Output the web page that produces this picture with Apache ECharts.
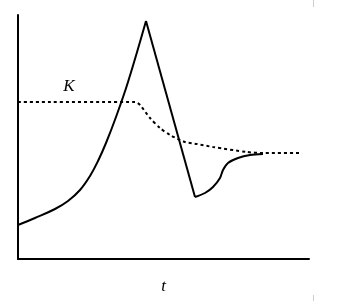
<!DOCTYPE html>
<html><head><meta charset="utf-8">
<script src="https://cdn.jsdelivr.net/npm/echarts@6/dist/echarts.min.js"></script>
<style>html,body{margin:0;padding:0;background:#fff}#c{width:350px;height:301px}</style>
</head><body><div id="c"></div>
<script>
// Population curve (t, N) — rising phase, crash, recovery
const riseX = [0, 17, 37, 50, 62, 72, 80, 88, 98, 110, 128];
const riseY = [34, 41, 50, 58, 69, 83, 98, 116, 142, 177, 238];
const fallX = [128, 177];
const fallY = [238, 62];
const recX = [177, 187, 195, 202, 205, 210, 220, 232, 245];
const recY = [62, 66, 72, 81, 89, 96, 101, 104, 105];
// Carrying capacity K (dotted)
const kX = [0, 117, 122, 132, 142, 152, 167, 179, 195, 229, 245, 282];
const kY = [157, 157, 154, 141, 131, 124, 117, 115, 112, 107, 106, 106];
const kLabel = 'K';
const kLabelPos = [51, 172];
const xName = 't';

const zip = (a, b) => a.map((v, i) => [v, b[i]]);
const solid = {type: 'line', symbol: 'none', lineStyle: {color: '#000', width: 2}, silent: true};

const chart = echarts.init(document.getElementById('c'), null, {renderer: 'canvas'});
chart.setOption({
  animation: false,
  grid: {left: 18, right: 41, top: 15, bottom: 42, containLabel: false, outerBoundsMode: 'none'},
  xAxis: {
    type: 'value', min: 0, max: 291,
    axisLine: {lineStyle: {color: '#000', width: 2}},
    axisTick: {show: false}, axisLabel: {show: false}, splitLine: {show: false},
    name: xName, nameLocation: 'middle', nameGap: 19,
    nameTextStyle: {fontFamily: 'Liberation Serif', fontStyle: 'italic', fontSize: 17, color: '#000'}
  },
  yAxis: {
    type: 'value', min: 0, max: 244,
    axisLine: {lineStyle: {color: '#000', width: 2}},
    axisTick: {show: false}, axisLabel: {show: false}, splitLine: {show: false}
  },
  series: [
    Object.assign({}, solid, {data: zip(riseX, riseY), smooth: 0.4}),
    Object.assign({}, solid, {data: zip(fallX, fallY)}),
    Object.assign({}, solid, {data: zip(recX, recY), smooth: 0.3}),
    {
      type: 'line', symbol: 'none', silent: true, smooth: 0.25,
      data: zip(kX, kY),
      lineStyle: {color: '#000', width: 2, type: [3, 3]},
      markPoint: {
        symbol: 'circle', symbolSize: 0,
        label: {show: true, formatter: kLabel, position: 'inside',
          fontFamily: 'Liberation Serif', fontStyle: 'italic', fontSize: 17, color: '#000'},
        data: [{coord: kLabelPos}]
      }
    }
  ],
  graphic: [
    {type: 'line', shape: {x1: 313.5, y1: 0, x2: 313.5, y2: 7}, style: {stroke: '#ccc', lineWidth: 1}},
    {type: 'line', shape: {x1: 313.5, y1: 295, x2: 313.5, y2: 301}, style: {stroke: '#ccc', lineWidth: 1}}
  ]
});
</script></body></html>
